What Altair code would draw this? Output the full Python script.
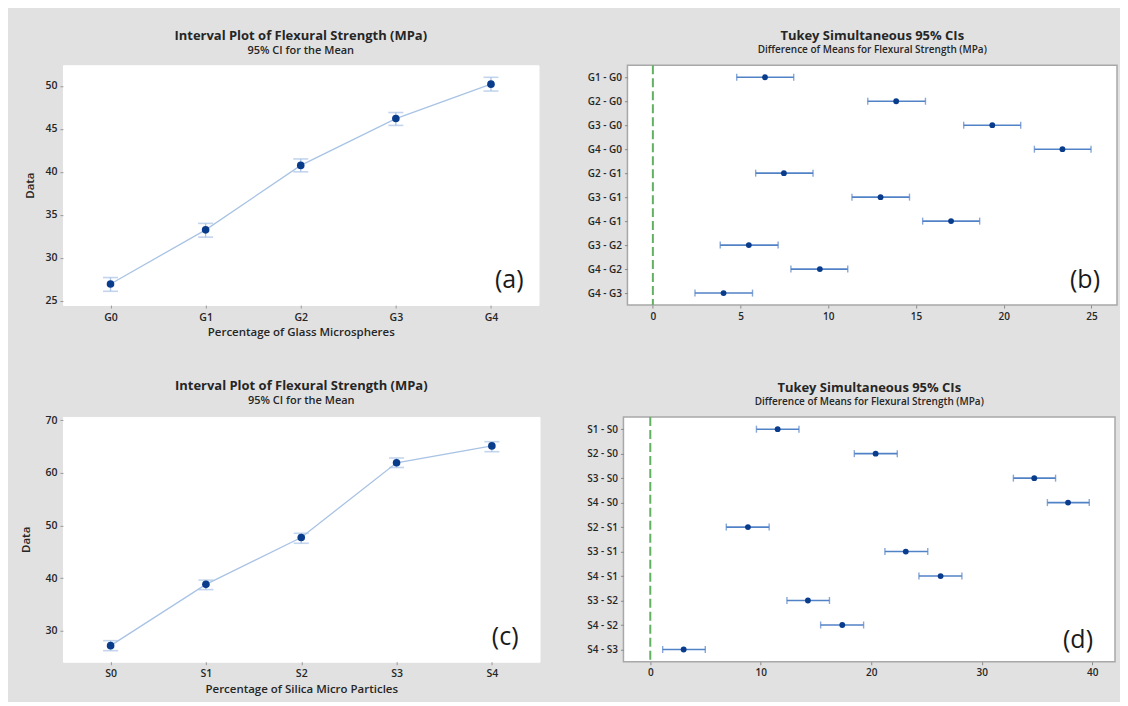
import altair as alt
import pandas as pd

# ---------------- data ----------------
a_cats = ["G0", "G1", "G2", "G3", "G4"]
a_mean = [26.95, 33.25, 40.75, 46.2, 50.2]
a_low = [26.1, 32.4, 40.0, 45.4, 49.4]
a_high = [27.7, 34.0, 41.5, 46.9, 51.0]

c_cats = ["S0", "S1", "S2", "S3", "S4"]
c_mean = [27.15, 38.8, 47.7, 61.9, 65.1]
c_low = [26.2, 37.8, 46.6, 61.0, 64.0]
c_high = [28.1, 39.6, 48.5, 62.8, 65.9]

b_pairs = ["G1 - G0", "G2 - G0", "G3 - G0", "G4 - G0", "G2 - G1",
           "G3 - G1", "G4 - G1", "G3 - G2", "G4 - G2", "G4 - G3"]
b_diff = [6.39, 13.87, 19.35, 23.35, 7.47, 12.98, 17.0, 5.47, 9.52, 4.03]
b_low = [4.78, 12.25, 17.72, 21.75, 5.86, 11.35, 15.38, 3.84, 7.87, 2.40]
b_high = [8.03, 15.54, 20.97, 24.98, 9.13, 14.63, 18.63, 7.14, 11.11, 5.68]

d_pairs = ["S1 - S0", "S2 - S0", "S3 - S0", "S4 - S0", "S2 - S1",
           "S3 - S1", "S4 - S1", "S3 - S2", "S4 - S2", "S4 - S3"]
d_diff = [11.53, 20.4, 34.76, 37.82, 8.84, 23.13, 26.28, 14.27, 17.38, 3.02]
d_low = [9.61, 18.47, 32.87, 35.95, 6.88, 21.24, 24.32, 12.37, 15.42, 1.12]
d_high = [13.46, 22.36, 36.69, 39.74, 10.76, 25.12, 28.21, 16.22, 19.31, 4.98]

a_yticks = [25, 30, 35, 40, 45, 50]
c_yticks = [30, 40, 50, 60, 70]
b_xticks = [0, 5, 10, 15, 20, 25]
d_xticks = [0, 10, 20, 30, 40]

# ---------------- style ----------------
FONT = "Open Sans"
BG = "#e1e1e1"
NAVY = "#0a3c8c"
LIGHT = "#a9c3e4"
BAR = "#5282c6"
GREEN = "#62b162"
TXT = "#262626"


def title(main, sub, size=13, subsize=11):
    return alt.TitleParams(text=main, subtitle=sub, font=FONT, fontSize=size,
                           fontWeight="bold", color=TXT, subtitleFont=FONT,
                           subtitleFontSize=subsize, subtitleFontWeight=600,
                           subtitleColor=TXT, subtitlePadding=2, anchor="middle",
                           offset=9)


def tag_layer(tag, x, y):
    return alt.Chart(pd.DataFrame({"t": [tag]})).mark_text(
        font=FONT, fontSize=25, color="#1a1a1a", align="right",
        baseline="alphabetic").encode(text="t:N", x=alt.value(x), y=alt.value(y))


def interval_panel(cats, mean, low, high, ydom, yticks, xtitle, tag, w, h,
                   ytitlepad, tagdx, tagdy):
    df = pd.DataFrame({"cat": cats, "mean": mean, "low": low, "high": high})
    base = alt.Chart(df)
    xenc = alt.X("cat:N", sort=cats, scale=alt.Scale(type="point", padding=0.5),
                 axis=alt.Axis(title=xtitle, labelAngle=0, domain=False,
                               tickSize=3, tickColor="#9a9a9a", labelPadding=4,
                               titlePadding=4, labelFontSize=10.5,
                               labelFontWeight=600, labelColor=TXT,
                               titleFontSize=11.5, titleFontWeight=600,
                               titleColor=TXT, labelFont=FONT, titleFont=FONT))
    yscale = alt.Scale(domain=ydom, nice=False, zero=False)
    yaxis = alt.Axis(values=yticks, title="Data", domain=False, grid=False,
                     tickSize=3, tickColor="#9a9a9a", labelPadding=3,
                     labelFontSize=10.5, labelFontWeight=600, labelColor=TXT,
                     titleFontSize=11.5, titleFontWeight=600, titleColor=TXT,
                     minExtent=24, maxExtent=24, titlePadding=ytitlepad,
                     labelFont=FONT, titleFont=FONT)

    def Y(f):
        return alt.Y(f, scale=yscale, axis=yaxis, title="Data")

    line = base.mark_line(color=LIGHT, strokeWidth=1.3).encode(x=xenc, y=Y("mean:Q"))
    rule = base.mark_rule(color=LIGHT, strokeWidth=1.3).encode(
        x=xenc, y=Y("low:Q"), y2="high:Q")
    cap_lo = base.mark_tick(color=LIGHT, size=15, thickness=1.6).encode(x=xenc, y=Y("low:Q"))
    cap_hi = base.mark_tick(color=LIGHT, size=15, thickness=1.6).encode(x=xenc, y=Y("high:Q"))
    pts = base.mark_point(filled=True, color=NAVY, size=58, opacity=1).encode(
        x=xenc, y=Y("mean:Q"))
    return alt.layer(line, rule, cap_lo, cap_hi, pts,
                     tag_layer(tag, w - tagdx, h - tagdy)).properties(
        width=w, height=h,
        title=title("Interval Plot of Flexural Strength (MPa)", "95% CI for the Mean"),
        view=alt.ViewBackground(fill="white", stroke="white"))


def tukey_panel(pairs, diff, low, high, xdom, xticks, tag, w, h, tagdx, tagdy):
    df = pd.DataFrame({"pair": pairs, "diff": diff, "low": low, "high": high})
    base = alt.Chart(df)
    yenc = alt.Y("pair:N", sort=pairs, scale=alt.Scale(type="point", padding=0.5),
                 axis=alt.Axis(title=None, domain=False, tickSize=3,
                               tickColor="#8a8a8a", labelPadding=3,
                               minExtent=40, maxExtent=40, labelFontSize=10,
                               labelFontWeight=600, labelColor=TXT, labelFont=FONT))
    xscale = alt.Scale(domain=xdom, nice=False, zero=False)
    xaxis = alt.Axis(values=xticks, title=None, domain=False, grid=False,
                     tickSize=3, tickColor="#8a8a8a", labelPadding=3,
                     labelFontSize=10, labelFontWeight=600, labelColor=TXT,
                     labelFont=FONT)

    def X(f):
        return alt.X(f, scale=xscale, axis=xaxis, title=None)

    zero = alt.Chart(pd.DataFrame({"z": [0]})).mark_rule(
        color=GREEN, strokeWidth=2, strokeDash=[9, 4]).encode(x=X("z:Q"))
    rule = base.mark_rule(color=BAR, strokeWidth=1.6).encode(
        y=yenc, x=X("low:Q"), x2="high:Q")
    cap_lo = base.mark_tick(color=BAR, size=7, thickness=1.4).encode(y=yenc, x=X("low:Q"))
    cap_hi = base.mark_tick(color=BAR, size=7, thickness=1.4).encode(y=yenc, x=X("high:Q"))
    pts = base.mark_point(filled=True, color=NAVY, size=34, opacity=1).encode(
        y=yenc, x=X("diff:Q"))
    return alt.layer(zero, rule, cap_lo, cap_hi, pts,
                     tag_layer(tag, w - tagdx, h - tagdy)).properties(
        width=w, height=h,
        title=title("Tukey Simultaneous 95% CIs",
                    "Difference of Means for Flexural Strength (MPa)", 13, 10),
        view=alt.ViewBackground(fill="white", stroke="#a8a8a8", strokeWidth=1.5))


pa = interval_panel(a_cats, a_mean, a_low, a_high, [24.5, 52.4], a_yticks,
                    "Percentage of Glass Microspheres", "(a)", 476, 240, 3, 15, 17)
pb = tukey_panel(b_pairs, b_diff, b_low, b_high, [-1.45, 26.46], b_xticks,
                 "(b)", 490, 240, 17, 17)
pc = interval_panel(c_cats, c_mean, c_low, c_high, [24.1, 70.6], c_yticks,
                    "Percentage of Silica Micro Particles", "(c)", 477, 245, 7, 21, 17)
pd_ = tukey_panel(d_pairs, d_diff, d_low, d_high, [-2.43, 42.07], d_xticks,
                  "(d)", 492, 245, 22, 14)

row1 = alt.hconcat(pa, pb, spacing=46)
row2 = alt.hconcat(pc, pd_, spacing=42)

chart = alt.vconcat(row1, row2, spacing=40).properties(
    background=BG,
    padding={"left": 12, "top": 21, "right": 2, "bottom": 6},
).configure(font=FONT)

chart.save("out.html", embed_options={"renderer": "svg", "actions": False})
